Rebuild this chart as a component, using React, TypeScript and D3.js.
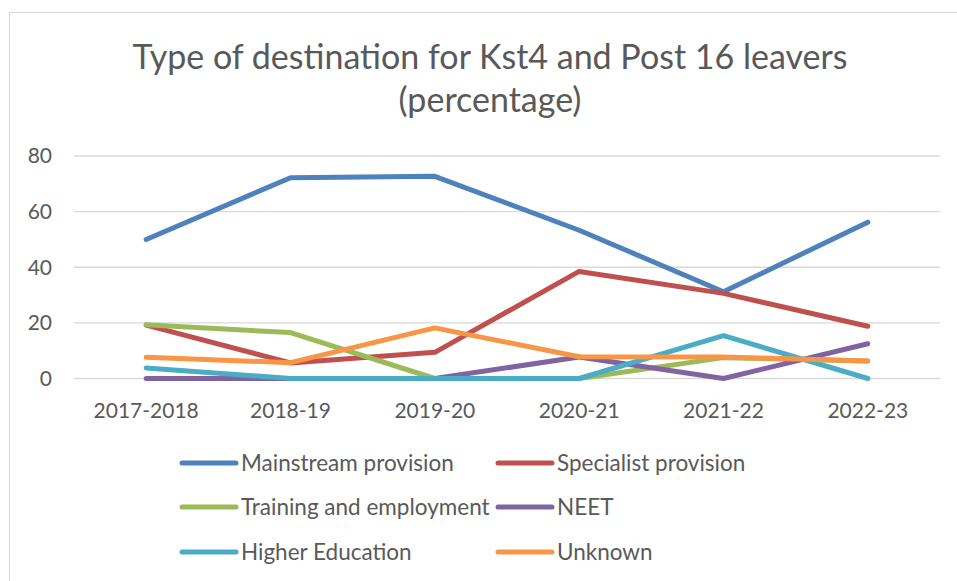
import React, { useRef, useEffect } from 'react';
import * as d3 from 'd3';

const years = ['2017-2018', '2018-19', '2019-20', '2020-21', '2021-22', '2022-23'];
const seriesNames = [
  'Mainstream provision',
  'Specialist provision',
  'Training and employment',
  'NEET',
  'Higher Education',
  'Unknown',
];
const mainstream = [50, 72.2, 72.7, 53.3, 31.2, 56.2];
const specialist = [19.2, 5.6, 9.4, 38.5, 30.6, 18.8];
const training = [19.3, 16.5, 0, 0, 7.5, 6.3];
const neet = [0, 0, 0, 7.7, 0, 12.5];
const higherEd = [3.8, 0, 0, 0, 15.4, 0];
const unknown = [7.6, 5.7, 18.2, 7.8, 7.7, 6.3];
const yTicks = [0, 20, 40, 60, 80];
const colors = ['#4F81BD', '#C0504D', '#9BBB59', '#8064A2', '#4BACC6', '#F79646'];

const App: React.FC = () => {
  const chartRef = useRef<SVGSVGElement | null>(null);

  useEffect(() => {
    if (!chartRef.current) return;
    document.body.style.margin = '0';

    const svg = d3.select(chartRef.current);
    svg.selectAll('*').remove();

    const width = 957;
    const height = 581;
    const font = 'Lato, "Noto Sans", sans-serif';
    const textColor = '#595959';
    const margin = { top: 156, left: 74, right: 17, bottom: 203 };

    svg.attr('width', width).attr('height', height);

    // chart frame
    svg.append('rect')
      .attr('x', 9.5).attr('y', 12.5)
      .attr('width', width + 20).attr('height', height + 20)
      .attr('fill', 'white')
      .attr('stroke', '#D9D9D9');

    // title
    const title = svg.append('text')
      .attr('text-anchor', 'middle')
      .attr('font-family', font)
      .attr('font-size', 34)
      .attr('fill', textColor);
    title.append('tspan').attr('x', 490).attr('y', 69).text('Type of destination for Kst4 and Post 16 leavers');
    title.append('tspan').attr('x', 490).attr('y', 112).text('(percentage)');

    const x = d3.scaleBand()
      .domain(years)
      .range([margin.left, width - margin.right]);

    const y = d3.scaleLinear()
      .domain([0, 80])
      .range([height - margin.bottom + 0.5, margin.top]);

    // gridlines
    svg.append('g')
      .selectAll('line')
      .data(yTicks)
      .join('line')
      .attr('x1', margin.left)
      .attr('x2', width - margin.right)
      .attr('y1', d => y(d))
      .attr('y2', d => y(d))
      .attr('stroke', '#D9D9D9')
      .attr('stroke-width', 1.3);

    // y tick labels
    svg.append('g')
      .selectAll('text')
      .data(yTicks)
      .join('text')
      .attr('x', 52)
      .attr('y', d => y(d))
      .attr('dy', '0.35em')
      .attr('text-anchor', 'end')
      .attr('font-family', font)
      .attr('font-size', 21)
      .attr('fill', textColor)
      .text(d => d);

    // x labels
    svg.append('g')
      .selectAll('text')
      .data(years)
      .join('text')
      .attr('x', d => (x(d) || 0) + x.bandwidth() / 2)
      .attr('y', 418)
      .attr('text-anchor', 'middle')
      .attr('font-family', font)
      .attr('font-size', 21)
      .attr('fill', textColor)
      .text(d => d);

    const allSeries = [mainstream, specialist, training, neet, higherEd, unknown];
    const line = d3.line<number>()
      .x((_, i) => (x(years[i]) || 0) + x.bandwidth() / 2)
      .y(d => y(d));

    svg.append('g')
      .selectAll('path')
      .data(allSeries)
      .join('path')
      .attr('d', d => line(d))
      .attr('fill', 'none')
      .attr('stroke', (_, i) => colors[i])
      .attr('stroke-width', 5)
      .attr('stroke-linecap', 'round')
      .attr('stroke-linejoin', 'round');

    // legend
    const legendX = [182, 498];
    const legendY = [463, 507, 552];
    const legend = svg.append('g')
      .selectAll('g')
      .data(seriesNames)
      .join('g')
      .attr('transform', (_, i) => `translate(${legendX[i % 2]},${legendY[Math.floor(i / 2)]})`);

    legend.append('line')
      .attr('x1', 0).attr('x2', 54)
      .attr('y1', 0).attr('y2', 0)
      .attr('stroke', (_, i) => colors[i])
      .attr('stroke-width', 5)
      .attr('stroke-linecap', 'round');

    legend.append('text')
      .attr('x', 59)
      .attr('dy', '0.35em')
      .attr('font-family', font)
      .attr('font-size', 22.5)
      .attr('fill', textColor)
      .text(d => d);
  }, []);

  return <svg ref={chartRef} style={{ display: 'block' }} />;
};

export default App;
